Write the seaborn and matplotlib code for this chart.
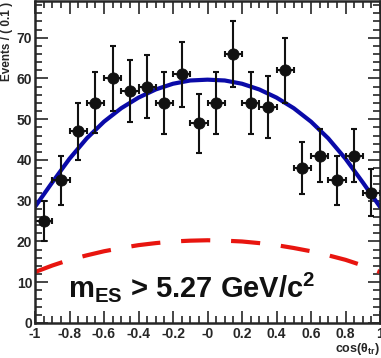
import matplotlib

matplotlib.use("Agg")

import matplotlib.pyplot as plt
import numpy as np
import pandas as pd
import seaborn as sns
from matplotlib.ticker import MultipleLocator

# Data points (bin centres, counts)
bin_centers = [-0.95, -0.85, -0.75, -0.65, -0.55, -0.45, -0.35, -0.25, -0.15, -0.05,
               0.05, 0.15, 0.25, 0.35, 0.45, 0.55, 0.65, 0.75, 0.85, 0.95]
counts = [25, 35, 47, 54, 60, 57, 58, 54, 61, 49,
          54, 66, 54, 53, 62, 38, 41, 35, 41, 32]
y_err = [5.0, 6.0, 7.0, 7.5, 8.0, 7.6, 7.8, 7.6, 8.0, 7.2,
         7.6, 8.2, 7.6, 7.5, 8.0, 6.3, 6.5, 6.0, 6.5, 5.8]

# Fit curves
curve_x = [-1.0, -0.9, -0.8, -0.7, -0.6, -0.5, -0.4, -0.3, -0.2, -0.1, 0.0,
           0.1, 0.2, 0.3, 0.4, 0.5, 0.6, 0.7, 0.8, 0.9, 1.0]
total_fit = [28.5, 34.5, 40.3, 45.3, 49.4, 52.7, 55.3, 57.3, 58.7, 59.5, 59.7,
             59.5, 58.7, 57.3, 55.3, 52.7, 49.4, 45.3, 40.3, 34.5, 28.5]
bkg_fit = [12.5, 14.1, 15.5, 16.6, 17.6, 18.4, 19.1, 19.6, 20.0, 20.2, 20.3,
           20.2, 20.0, 19.6, 19.1, 18.4, 17.6, 16.6, 15.5, 14.1, 12.5]

x_ticks = [-1, -0.8, -0.6, -0.4, -0.2, 0, 0.2, 0.4, 0.6, 0.8, 1]
x_tick_labels = ["-1", "-0.8", "-0.6", "-0.4", "-0.2", "-0", "0.2", "0.4", "0.6", "0.8", "1"]
y_ticks = [0, 10, 20, 30, 40, 50, 60, 70]

sns.set_style("ticks")
plt.rcParams["font.family"] = ["Liberation Sans", "DejaVu Sans"]
plt.rcParams["mathtext.fontset"] = "custom"
plt.rcParams["mathtext.rm"] = "Liberation Sans:bold"
plt.rcParams["mathtext.it"] = "Liberation Sans:bold"

fig = plt.figure(figsize=(3.81, 3.58), dpi=100)
ax = fig.add_axes([35 / 381, 1 - 323 / 358, 345 / 381, 322 / 358])

curves = pd.DataFrame({"x": curve_x, "total": total_fit, "bkg": bkg_fit})
sns.lineplot(data=curves, x="x", y="total", color="#0a0aa8", lw=3, ax=ax)
sns.lineplot(data=curves, x="x", y="bkg", color="#e8150f", lw=3, ax=ax,
             dashes=False)
ax.lines[-1].set_dashes([7, 5])

ax.errorbar(bin_centers, counts, xerr=0.05, yerr=y_err, fmt="none",
            ecolor="#111111", elinewidth=1.5, capsize=2.5, capthick=1.5)
sns.scatterplot(x=bin_centers, y=counts, color="#111111", s=65,
                edgecolor="#111111", zorder=5, ax=ax)

ax.set_xlim(-1, 1)
ax.set_ylim(0, 79)
ax.set_xticks(x_ticks)
ax.set_xticklabels(x_tick_labels)
ax.set_yticks(y_ticks)
ax.xaxis.set_minor_locator(MultipleLocator(0.05))
ax.yaxis.set_minor_locator(MultipleLocator(2))
ax.tick_params(which="both", direction="in", top=True, right=True, width=1.2)
ax.tick_params(which="major", length=9, labelsize=10, pad=2)
ax.tick_params(axis="x", which="major", pad=3)
ax.tick_params(which="minor", length=5)
for lab in ax.get_xticklabels() + ax.get_yticklabels():
    lab.set_fontweight("bold")
for sp in ax.spines.values():
    sp.set_linewidth(1.8)

ax.set_xlabel("")
ax.set_ylabel("")
fig.text(1 / 381, 1 - 2 / 358, "Events / ( 0.1 )", rotation=90, ha="left",
         va="top", fontsize=8.5, fontweight="bold")
fig.text(380 / 381, 1 - 349 / 358, r"cos($\theta_{\rm tr}$)", ha="right",
         va="center", fontsize=9, fontweight="bold")
ax.text(-0.81, 6.4, r"m$_{\rm ES}$ > 5.27 GeV/c$^{2}$", fontsize=21,
        ha="left", va="baseline", fontweight="bold", color="#111111")

fig.savefig("out.png", dpi=100)
